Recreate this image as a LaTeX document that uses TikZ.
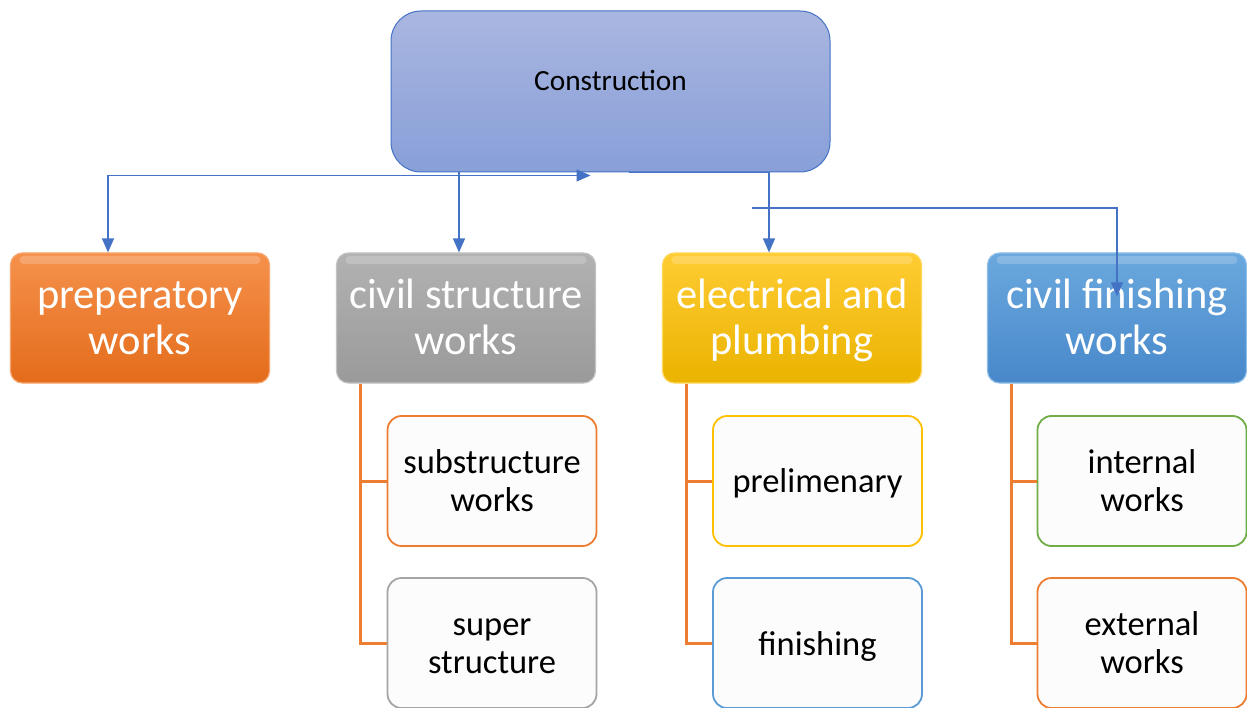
\documentclass[tikz,border=0pt]{standalone}
\usepackage{fontspec}
\setmainfont{Carlito}
\usetikzlibrary{arrows.meta,calc}
\definecolor{cblue}{HTML}{4472C4}
\definecolor{corange}{HTML}{ED7D31}
\definecolor{cgray}{HTML}{A5A5A5}
\definecolor{cgold}{HTML}{FFC000}
\definecolor{clblue}{HTML}{5B9BD5}
\definecolor{cgreen}{HTML}{70AD47}
\definecolor{l3fill}{HTML}{FCFCFC}
\definecolor{topT}{HTML}{A9B6E0}
\definecolor{topB}{HTML}{889FD8}
\definecolor{prepD}{HTML}{F6A46B}
\definecolor{prepT}{HTML}{F5914C}
\definecolor{prepB}{HTML}{E46C1B}
\definecolor{civD}{HTML}{C2C2C2}
\definecolor{civT}{HTML}{B2B2B2}
\definecolor{civB}{HTML}{9A9A9A}
\definecolor{elecD}{HTML}{FFD75A}
\definecolor{elecT}{HTML}{FFCC33}
\definecolor{elecB}{HTML}{EAB300}
\definecolor{finD}{HTML}{8CBEE8}
\definecolor{finT}{HTML}{6AA8DE}
\definecolor{finB}{HTML}{4888CA}
\newcommand\lowered[2]{\raisebox{-#1}[\height][\depth]{\begin{tabular}{@{}c@{}}#2\end{tabular}}}
\tikzset{
  x=1pt, y=-1pt,
  topbox/.style={rectangle, rounded corners=30pt, draw=cblue, line width=1pt,
    top color=topT, bottom color=topB, minimum width=439pt, minimum height=161pt},
  l2box/.style={rectangle, rounded corners=12pt, line width=1.2pt, text=white,
    minimum width=259pt, minimum height=130pt, inner sep=0pt,
    font=\fontsize{42.5}{46}\selectfont,
    path picture={\fill[white,opacity=0.2,rounded corners=4pt]
      ([xshift=9pt,yshift=-3pt]path picture bounding box.north west) rectangle
      ([xshift=-9pt,yshift=-11pt]path picture bounding box.north east);}},
  l3box/.style={rectangle, rounded corners=14pt, line width=1.8pt, fill=l3fill,
    minimum width=209pt, minimum height=130pt, inner sep=0pt,
    font=\fontsize{34.5}{37.5}\selectfont},
  conn/.style={draw=cblue, line width=1.3pt},
  tip/.style={-{Triangle[length=14pt,width=12pt]}},
  tree/.style={draw=corange, line width=3pt},
}
\begin{document}
\begin{tikzpicture}
\useasboundingbox[fill=white] (0,0) rectangle (1247,708);
% top node
\node[topbox] (constr) at (610.5,91.5) {};
\node[anchor=base, font=\fontsize{29.3}{35}\selectfont] (constrtext) at (610.5,91) {Construction};
% level 2
\node[l2box, draw=prepD, top color=prepT, bottom color=prepB] (prep) at (140,318) {\lowered{4pt}{preperatory\\works}};
\node[l2box, draw=civD, top color=civT, bottom color=civB] (civ) at (466,318) {\lowered{4pt}{civil structure\\works}};
\node[l2box, draw=elecD, top color=elecT, bottom color=elecB] (elec) at (792,318) {\lowered{4pt}{electrical and\\plumbing}};
\node[l2box, draw=finD, top color=finT, bottom color=finB] (fin) at (1117,318) {\lowered{4pt}{civil finishing\\works}};
% level 3
\node[l3box, draw=corange] (sub) at (492,481) {\lowered{4pt}{substructure\\works}};
\node[l3box, draw=cgray] (sup) at (492,643) {\lowered{4pt}{super\\structure}};
\node[l3box, draw=cgold] (prel) at (817.5,481) {\lowered{4pt}{prelimenary}};
\node[l3box, draw=clblue] (finish) at (817.5,643) {\lowered{5pt}{finishing}};
\node[l3box, draw=cgreen] (int) at (1142,481) {\lowered{4pt}{internal\\works}};
\node[l3box, draw=corange] (ext) at (1142,643) {\lowered{4pt}{external\\works}};
% tree lines
\draw[tree] ([xshift=25pt]civ.south west) |- (sub.west);
\draw[tree] ([xshift=25pt]civ.south west) |- (sup.west);
\draw[tree] ([xshift=25pt]elec.south west) |- (prel.west);
\draw[tree] ([xshift=25pt]elec.south west) |- (finish.west);
\draw[tree] ([xshift=25pt]fin.south west) |- (int.west);
\draw[tree] ([xshift=25pt]fin.south west) |- (ext.west);
% connectors
\draw[conn, tip] ([xshift=-7pt]civ.north |- constr.south) -- ([xshift=-7pt]civ.north);
\draw[conn, {Triangle[length=14pt,width=12pt]}-{Triangle[length=14pt,width=12pt]}]
  ([xshift=-20pt,yshift=-3pt]constr.south) -| ([xshift=-32pt]prep.north);
\draw[conn, tip] ([xshift=18pt]constr.south) -| ([xshift=-23pt]elec.north);
\coordinate (fs) at (752,208);
\draw[conn, tip] (fs) -| ([yshift=-44pt]fin.north);
\end{tikzpicture}
\end{document}
